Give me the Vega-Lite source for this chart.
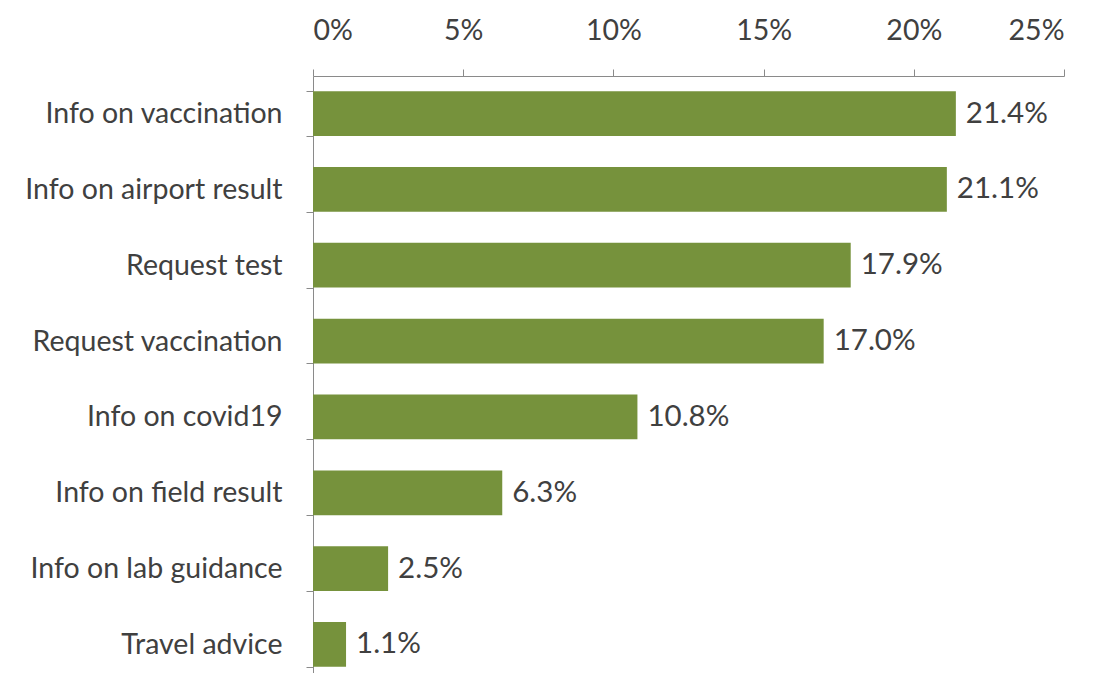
{
  "$schema": "https://vega.github.io/schema/vega-lite/v6.json",
  "autosize": "none",
  "padding": {"left": 313, "top": 76, "right": 38, "bottom": 0},
  "width": 751,
  "height": 606,
  "background": "white",
  "data": {"values": [
    {"category": "Info on vaccination", "value": 0.214},
    {"category": "Info on airport result", "value": 0.211},
    {"category": "Request test", "value": 0.179},
    {"category": "Request vaccination", "value": 0.170},
    {"category": "Info on covid19", "value": 0.108},
    {"category": "Info on field result", "value": 0.063},
    {"category": "Info on lab guidance", "value": 0.025},
    {"category": "Travel advice", "value": 0.011}
  ]},
  "config": {"view": {"stroke": null}, "font": "Lato"},
  "encoding": {
    "y": {"field": "category", "type": "nominal", "sort": null,
      "scale": {"paddingInner": 0.41, "paddingOuter": 0.2},
      "axis": {"title": null, "orient": "left", "tickBand": "extent", "tickSize": 7,
        "domainColor": "#8a8a8a", "tickColor": "#8a8a8a", "labelFontSize": 28.5,
        "labelColor": "#404040", "labelPadding": 24, "labelFont": "Lato", "labelLimit": 400}},
    "x": {"field": "value", "type": "quantitative",
      "scale": {"domain": [0, 0.25]},
      "axis": {"title": null, "orient": "top", "format": ".0%", "values": [0, 0.05, 0.1, 0.15, 0.2, 0.25],
        "grid": false, "tickSize": 7, "domainColor": "#8a8a8a", "tickColor": "#8a8a8a",
        "labelFontSize": 28.5, "labelColor": "#404040", "labelPadding": 24, "labelFont": "Lato"}}
  },
  "layer": [
    {"mark": {"type": "bar", "color": "#76923c"}},
    {"mark": {"type": "text", "align": "left", "dx": 10, "fontSize": 29.5, "color": "#404040", "font": "Lato"},
     "encoding": {"text": {"field": "value", "type": "quantitative", "format": ".1%"}}}
  ]
}
